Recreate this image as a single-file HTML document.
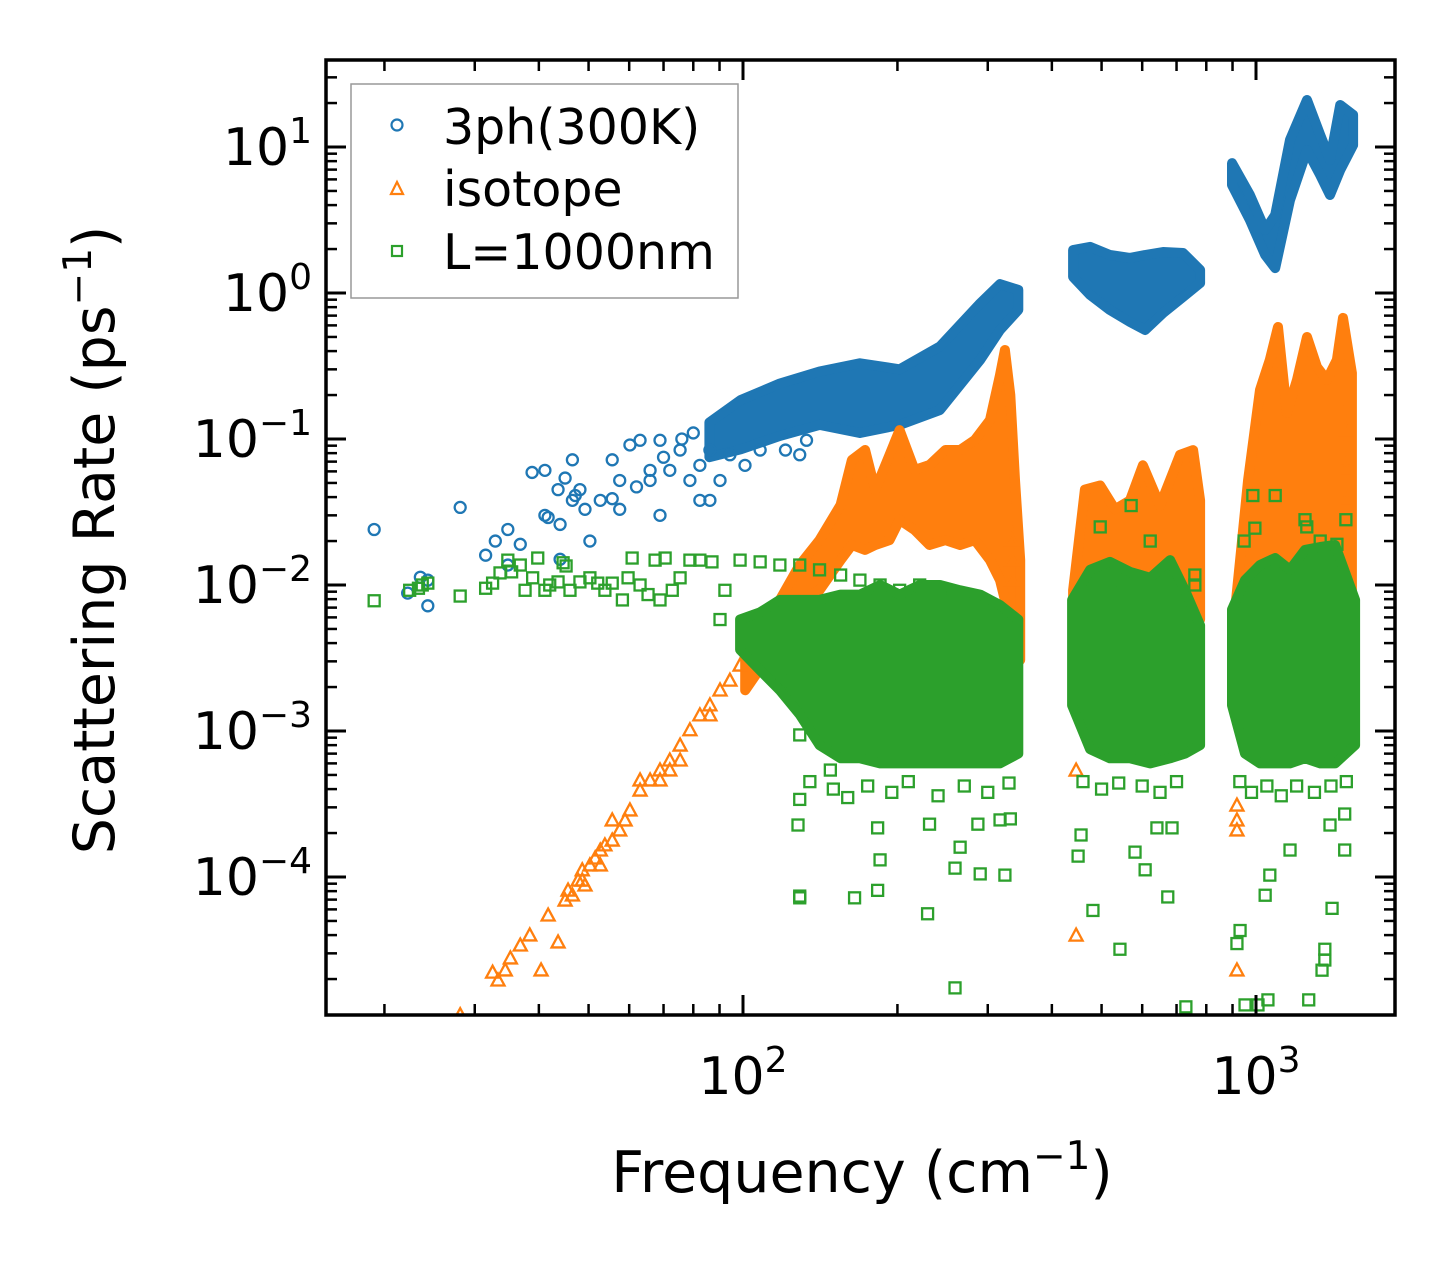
<!DOCTYPE html>
<html><head><meta charset="utf-8"><style>
html,body{margin:0;padding:0;background:#fff;}
svg{display:block;font-family:"DejaVu Sans","Liberation Sans",sans-serif;}
</style></head><body>
<svg id="chart" width="1455" height="1265" viewBox="0 0 1455 1265" xmlns="http://www.w3.org/2000/svg">
<rect x="0" y="0" width="1455" height="1265" fill="#fff"/>
<defs><clipPath id="plotclip"><rect x="326" y="60" width="1069" height="955"/></clipPath></defs>
<g id="marks" clip-path="url(#plotclip)"></g>
<g id="axes"></g>
<text x="862" y="1192" font-size="57" text-anchor="middle">Frequency (cm<tspan dy="-23" font-size="39">−1</tspan><tspan dy="23">)</tspan></text>
<text transform="translate(114,540) rotate(-90)" font-size="57" text-anchor="middle">Scattering Rate (ps<tspan dy="-23" font-size="39">−1</tspan><tspan dy="23">)</tspan></text>
<g>
<rect x="351" y="84" width="387" height="214" fill="#fff" fill-opacity="0.8" stroke="#999" stroke-width="1.5"/>
<circle cx="397" cy="125" r="5.5" fill="none" stroke="#1f77b4" stroke-width="2.2"/>
<text x="443" y="144" font-size="49">3ph(300K)</text>
<polygon points="397,182 403,194 391,194" fill="none" stroke="#ff7f0e" stroke-width="2.2"/>
<text x="443" y="206" font-size="49">isotope</text>
<rect x="392" y="246" width="10" height="10" fill="none" stroke="#2ca02c" stroke-width="2.2"/>
<text x="443" y="269" font-size="49">L=1000nm</text>
</g>
</svg>
<script>
// ---- data ----
const xTickExps = [2, 3];
const yTickExps = [1, 0, -1, -2, -3, -4];
// 3ph dense bands: frequency, upper and lower rate
const bandBlueAFreq = [86,99,118,141,169,202,242,290,317,344];
const bandBlueAHigh = [0.13,0.185,0.24,0.29,0.33,0.30,0.43,0.85,1.15,1.05];
const bandBlueALow  = [0.075,0.085,0.105,0.125,0.11,0.125,0.158,0.348,0.558,0.766];
const bandBlueBFreq = [440,475,519,568,608,659,721,778];
const bandBlueBHigh = [1.97,2.07,1.82,1.74,1.82,1.91,1.88,1.44];
const bandBlueBLow  = [1.29,0.97,0.765,0.633,0.558,0.73,0.94,1.17];
const bandBlueCFreq = [898,973,1042,1090,1165,1257,1334,1394,1459,1546];
const bandBlueCHigh = [7.76,4.69,2.70,3.42,11.2,21.0,12.1,8.15,19.4,16.6];
const bandBlueCLow  = [5.49,3.16,1.82,1.48,4.33,9.53,6.43,4.69,6.95,10.3];
const blueFreq = [19.1,22.2,23.5,24.3,24.3,28.1,31.5,32.9,34.8,34.8,36.8,38.8,41.1,41.7,43.6,44.0,45.0,46.5,46.5,47.1,48.1,49.2,50.3,52.7,55.6,57.5,57.5,60.2,63.0,65.9,65.9,68.9,68.9,72.0,75.4,78.8,82.4,86.2,90.2,94.3,100.9,108,121,129,133,82.4,86.2,55.6,41.1,44,62,70,76,80];
const blueRate = [0.024,0.0088,0.0113,0.0108,0.0072,0.034,0.016,0.020,0.0137,0.024,0.019,0.059,0.061,0.029,0.045,0.026,0.054,0.072,0.038,0.041,0.045,0.033,0.020,0.038,0.039,0.033,0.052,0.091,0.098,0.061,0.052,0.030,0.098,0.061,0.084,0.052,0.066,0.084,0.052,0.078,0.066,0.084,0.084,0.078,0.098,0.038,0.038,0.072,0.030,0.015,0.047,0.075,0.1,0.11];
// isotope
const bandOrangeAFreq = [101,118,129,141,155,163,173,181,193,202,216,231,248,265,283,303,317,324,332,339,347];
const bandOrangeAHigh = [3.6e-3,7.9e-3,0.0137,0.0203,0.0353,0.0718,0.0841,0.0448,0.0777,0.115,0.0613,0.0664,0.0841,0.0841,0.0984,0.135,0.274,0.407,0.200,0.0524,0.0148];
const bandOrangeALow  = [1.9e-3,4.2e-3,7.9e-3,9.2e-3,0.0148,0.0188,0.0174,0.0188,0.0203,0.0279,0.0238,0.0188,0.0203,0.0188,0.0203,0.0148,0.0108,7.9e-3,5.75e-3,4.2e-3,3.06e-3];
const bandOrangeBFreq = [440,464,497,531,568,602,650,711,754,778];
const bandOrangeBHigh = [0.0092,0.045,0.048,0.033,0.038,0.066,0.035,0.078,0.084,0.038];
const bandOrangeBLow  = [5.8e-3,7.9e-3,7.9e-3,7.9e-3,7.9e-3,7.9e-3,7.9e-3,7.9e-3,7.9e-3,5.8e-3];
const bandOrangeCFreq = [898,931,965,1018,1064,1104,1149,1202,1257,1315,1375,1438,1478,1538];
const bandOrangeCHigh = [4.2e-3,0.0148,0.0524,0.217,0.348,0.585,0.151,0.254,0.50,0.311,0.254,0.348,0.675,0.283];
const bandOrangeCLow  = [2.2e-3,4.2e-3,7.9e-3,7.9e-3,7.9e-3,7.9e-3,7.9e-3,7.9e-3,7.9e-3,7.9e-3,7.9e-3,7.9e-3,7.9e-3,7.9e-3];
const orangeFreq = [28.1,32.5,33.3,34.4,35.2,36.8,38.4,40.4,41.7,43.6,45.0,45.6,46.5,47.7,48.6,49.2,50.3,51.5,52.7,53.8,55.6,57.5,58.9,60.2,63.0,65.9,68.9,72.0,75.4,78.8,82.4,86.2,90.2,94.3,98.7,55.6,63.0,68.9,75.4,48.6,52.7,72.0,86.2,334,334,334,334,334,334,1497,1497,1497,1497,1497,1497,446,918,918,918,918,446];
const orangeRate = [1.14e-5,2.23e-5,1.97e-5,2.31e-5,2.79e-5,3.42e-5,4.01e-5,2.31e-5,5.49e-5,3.59e-5,6.95e-5,8.14e-5,7.53e-5,9.53e-5,1.12e-4,8.81e-5,1.21e-4,1.35e-4,1.53e-4,1.66e-4,1.79e-4,2.10e-4,2.46e-4,2.88e-4,3.94e-4,4.62e-4,5.41e-4,6.33e-4,8.01e-4,1.02e-3,1.29e-3,1.51e-3,1.91e-3,2.23e-3,2.83e-3,2.46e-4,4.62e-4,4.62e-4,6.33e-4,9.53e-5,1.21e-4,5.41e-4,1.29e-3,0.0203,0.0148,0.0108,6.75e-3,5.32e-3,3.32e-3,0.158,0.115,0.091,0.072,0.061,0.038,4.0e-5,2.31e-5,3.11e-4,2.46e-4,2.10e-4,5.4e-4];
// boundary
const bandGreenAFreq = [98.7,108,118,129,141,155,169,185,202,221,242,265,290,317,344];
const bandGreenAHigh = [0.0058,0.0065,0.0079,0.0079,0.0079,0.0086,0.0086,0.0100,0.0086,0.0100,0.0100,0.0092,0.0086,0.0073,0.0058];
const bandGreenALow  = [3.6e-3,2.6e-3,1.9e-3,1.3e-3,8e-4,6.5e-4,6.5e-4,6e-4,6e-4,6e-4,6e-4,6e-4,6e-4,6e-4,7e-4];
const bandGreenBFreq = [438,475,519,568,622,680,727,778];
const bandGreenBHigh = [0.0079,0.0127,0.0144,0.0123,0.0112,0.0148,0.0092,0.0053];
const bandGreenBLow  = [1.5e-3,7.5e-4,6.5e-4,6.5e-4,6e-4,6.5e-4,7e-4,8e-4];
const bandGreenCFreq = [898,952,1018,1090,1165,1246,1334,1426,1560];
const bandGreenCHigh = [0.0068,0.0108,0.0137,0.0153,0.0127,0.0174,0.0182,0.0188,0.0079];
const bandGreenCLow  = [1.5e-3,7e-4,6e-4,6e-4,6e-4,6.5e-4,6e-4,6e-4,8e-4];
const greenFreq = [19.1,22.4,23.3,23.7,24.3,28.1,31.5,32.5,33.6,34.8,35.4,36.8,37.6,38.9,39.8,41.1,42.0,43.6,44.6,45.2,46.0,48.1,50.3,52.1,53.8,55.6,58.2,59.7,60.8,63.0,65.3,67.4,68.9,70.5,72.8,75.4,78.8,82.4,87.0,92.2,98.7,108,118,129,141,155,169,185,202,221,242,
129,129,165,185,183,183,148,129,129,128,118,90.2,229,259,287,265,259,290,324,317,332,231,450,456,481,543,581,608,673,686,641,730,550,497,571,622,760,760,986,995,918,952,931,1009,1055,1267,1362,1362,1345,1407,1042,1064,1165,1394,1489,1489,948,1256,1334,1438,1497,1090,1246,
135,150,160,175,195,210,240,270,300,330,460,500,540,600,650,700,930,980,1050,1120,1200,1300,1400,1500];
const greenRate = [0.0078,0.0092,0.0095,0.0100,0.0103,0.0084,0.0095,0.0103,0.0121,0.0148,0.0123,0.0137,0.0092,0.0112,0.0153,0.0092,0.0100,0.0105,0.0142,0.0135,0.0092,0.0105,0.0112,0.0103,0.0092,0.0103,0.0079,0.0112,0.0153,0.0100,0.0086,0.0148,0.0079,0.0153,0.0092,0.0112,0.0148,0.0148,0.0144,0.0092,0.0148,0.0144,0.0137,0.0137,0.0127,0.0117,0.0108,0.0100,0.0092,0.0100,0.0095,
7.2e-5,7.4e-5,7.2e-5,1.31e-4,8.1e-5,2.17e-4,5.4e-4,3.4e-4,9.4e-4,2.27e-4,2.2e-3,5.8e-3,5.6e-5,1.74e-5,2.3e-4,1.6e-4,1.15e-4,1.05e-4,1.03e-4,2.46e-4,2.5e-4,2.3e-4,1.39e-4,1.94e-4,5.9e-5,3.2e-5,1.48e-4,1.12e-4,7.3e-5,2.17e-4,2.17e-4,1.29e-5,0.0108,0.025,0.035,0.020,0.0117,0.0100,0.041,0.0245,3.5e-5,1.33e-5,4.3e-5,1.33e-5,1.44e-5,1.44e-5,2.7e-5,3.2e-5,2.3e-5,6.1e-5,7.5e-5,1.03e-4,1.53e-4,2.27e-4,1.53e-4,2.7e-4,0.020,0.025,0.020,0.019,0.028,0.041,0.028,
4.5e-4,4e-4,3.5e-4,4.2e-4,3.8e-4,4.5e-4,3.6e-4,4.2e-4,3.8e-4,4.4e-4,4.5e-4,4e-4,4.4e-4,4.2e-4,3.8e-4,4.5e-4,4.5e-4,3.8e-4,4.2e-4,3.6e-4,4.2e-4,3.8e-4,4.2e-4,4.5e-4];

// ---- scales ----
const X0 = 326, X1 = 1395, Y0 = 60, Y1 = 1015;
function xs(f){ return 743 + 513*(Math.log10(f) - 2); }
function ys(r){ return 147 - 146*(Math.log10(r) - 1); }
const NS = 'http://www.w3.org/2000/svg';
const marks = document.getElementById('marks');
const axes = document.getElementById('axes');
function mk(tag, attrs, parent){
  const e = document.createElementNS(NS, tag);
  for (const k in attrs) e.setAttribute(k, attrs[k]);
  parent.appendChild(e); return e;
}
function band(freq, hi, lo, color, name){
  const pts = [];
  for (let i=0;i<freq.length;i++) pts.push(xs(freq[i]).toFixed(1)+','+ys(hi[i]).toFixed(1));
  for (let i=freq.length-1;i>=0;i--) pts.push(xs(freq[i]).toFixed(1)+','+ys(lo[i]).toFixed(1));
  const p = mk('polygon', {points: pts.join(' '), fill: color, stroke: color, 'stroke-width': 10, 'stroke-linejoin': 'round'}, marks);
  
  
}
function circles(fr, rt, color){
  const g = mk('g', {}, marks);
  
  
  for (let i=0;i<fr.length;i++){
    const c = mk('circle', {cx: xs(fr[i]), cy: ys(rt[i]), r: 5.5, fill: 'none', stroke: color, 'stroke-width': 2.3}, g);
    
    
  }
}
function triangles(fr, rt, color){
  const g = mk('g', {}, marks);
  
  
  for (let i=0;i<fr.length;i++){
    const x = xs(fr[i]), y = ys(rt[i]);
    const t = mk('polygon', {points: `${x},${y-6.5} ${x+6.5},${y+5.5} ${x-6.5},${y+5.5}`, fill: 'none', stroke: color, 'stroke-width': 2.3}, g);
    
    
  }
}
function squares(fr, rt, color){
  const g = mk('g', {}, marks);
  
  
  for (let i=0;i<fr.length;i++){
    const s = mk('rect', {x: xs(fr[i])-5.5, y: ys(rt[i])-5.5, width: 11, height: 11, fill: 'none', stroke: color, 'stroke-width': 2.3}, g);
    
    
  }
}
const BLUE='#1f77b4', ORANGE='#ff7f0e', GREEN='#2ca02c';
band(bandBlueAFreq, bandBlueAHigh, bandBlueALow, BLUE, '3ph-band-low');
band(bandBlueBFreq, bandBlueBHigh, bandBlueBLow, BLUE, '3ph-band-mid');
band(bandBlueCFreq, bandBlueCHigh, bandBlueCLow, BLUE, '3ph-band-high');
circles(blueFreq, blueRate, BLUE);
band(bandOrangeAFreq, bandOrangeAHigh, bandOrangeALow, ORANGE, 'isotope-band-low');
band(bandOrangeBFreq, bandOrangeBHigh, bandOrangeBLow, ORANGE, 'isotope-band-mid');
band(bandOrangeCFreq, bandOrangeCHigh, bandOrangeCLow, ORANGE, 'isotope-band-high');
triangles(orangeFreq, orangeRate, ORANGE);
band(bandGreenAFreq, bandGreenAHigh, bandGreenALow, GREEN, 'boundary-band-low');
band(bandGreenBFreq, bandGreenBHigh, bandGreenBLow, GREEN, 'boundary-band-mid');
band(bandGreenCFreq, bandGreenCHigh, bandGreenCLow, GREEN, 'boundary-band-high');
squares(greenFreq, greenRate, GREEN);

// ---- axes ----
const frame = mk('rect', {x: X0, y: Y0, width: X1-X0, height: Y1-Y0, fill: 'none', stroke: '#000', 'stroke-width': 3.5}, axes);


for (let e=1; e<=3; e++){
  for (let m=1; m<=9; m++){
    const f = m*Math.pow(10,e), x = xs(f);
    if (x < X0+1 || x > X1-1) continue;
    const L = m===1 ? 20 : 11, w = m===1 ? 3 : 2.5;
    const t1 = mk('line', {x1:x, x2:x, y1:Y1, y2:Y1-L, stroke:'#000', 'stroke-width':w}, axes);
    
    
    const t2 = mk('line', {x1:x, x2:x, y1:Y0, y2:Y0+L, stroke:'#000', 'stroke-width':w}, axes);
    
    
  }
}
for (let e=-5; e<=1; e++){
  for (let m=1; m<=9; m++){
    const r = m*Math.pow(10,e), y = ys(r);
    if (y < Y0+1 || y > Y1-1) continue;
    const L = m===1 ? 20 : 11, w = m===1 ? 3 : 2.5;
    const t1 = mk('line', {x1:X0, x2:X0+L, y1:y, y2:y, stroke:'#000', 'stroke-width':w}, axes);
    
    
    const t2 = mk('line', {x1:X1, x2:X1-L, y1:y, y2:y, stroke:'#000', 'stroke-width':w}, axes);
    
    
  }
}
function expLabel(x, y, exp, anchor, name){
  const t = mk('text', {x:x, y:y, 'font-size':52, 'text-anchor':anchor}, axes);
  
  
  const a = mk('tspan', {}, t); a.textContent = '10';
  const b = mk('tspan', {dy:-22, 'font-size':36}, t); b.textContent = exp < 0 ? '−' + (-exp) : String(exp);
}
for (const e of xTickExps) expLabel(xs(Math.pow(10,e)), 1094, e, 'middle', 'x-tick-label');
for (const e of yTickExps) expLabel(312, ys(Math.pow(10,e)) + 18, e, 'end', 'y-tick-label');
</script>
</body></html>
